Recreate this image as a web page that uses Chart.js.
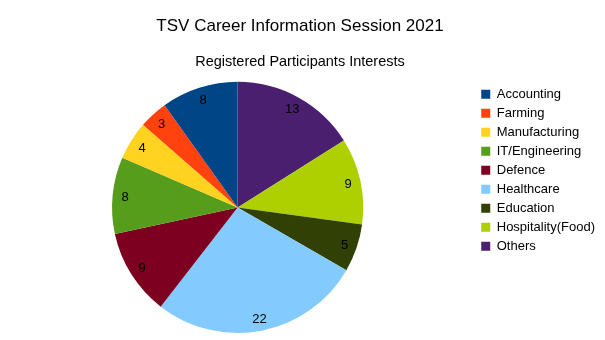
<!DOCTYPE html>
<html>
<head>
<meta charset="utf-8">
<script src="https://cdn.jsdelivr.net/npm/chart.js@4"></script>
<style>
  html, body { margin: 0; padding: 0; background: #fff; }
  #wrap { width: 605px; height: 340px; }
</style>
</head>
<body>
<div id="wrap"><canvas id="interestChart"></canvas></div>
<script>
// data (legend order)
const categories = ['Accounting', 'Farming', 'Manufacturing', 'IT/Engineering', 'Defence',
    'Healthcare', 'Education', 'Hospitality(Food)', 'Others'];
const participants = [8, 3, 4, 8, 9, 22, 5, 9, 13];
const sliceColors = ['#004586', '#ff420e', '#ffd320', '#579d1c', '#7e0021',
    '#83caff', '#314004', '#aecf00', '#4b1f6f'];

Chart.defaults.font.family = '"Liberation Sans", Arial, sans-serif';
Chart.defaults.color = '#000';

// slices go clockwise from the top starting with the last category,
// so feed the chart reversed and flip the legend back
const labelsRev = categories.slice().reverse();
const valuesRev = participants.slice().reverse();
const colorsRev = sliceColors.slice().reverse();

// draw the numbers inside the slices
const sliceValues = {
    id: 'sliceValues',
    afterDatasetsDraw(chart) {
        const ctx = chart.ctx;
        const meta = chart.getDatasetMeta(0);
        const data = chart.data.datasets[0].data;
        ctx.save();
        ctx.font = '13px "Liberation Sans", Arial, sans-serif';
        ctx.fillStyle = '#000';
        ctx.textAlign = 'center';
        ctx.textBaseline = 'middle';
        meta.data.forEach(function(arc, i) {
            const p = arc.getProps(['x', 'y', 'startAngle', 'endAngle', 'outerRadius'], true);
            const mid = (p.startAngle + p.endAngle) / 2;
            const r = p.outerRadius * 0.9;
            ctx.fillText(String(data[i]), p.x + Math.cos(mid) * r, p.y + Math.sin(mid) * r + 1);
        });
        ctx.restore();
    }
};

const ctx = document.getElementById('interestChart').getContext('2d');
new Chart(ctx, {
    type: 'pie',
    data: {
        labels: labelsRev,
        datasets: [{
            data: valuesRev,
            backgroundColor: colorsRev,
            borderWidth: 0
        }]
    },
    options: {
        responsive: true,
        maintainAspectRatio: false,
        animation: false,
        layout: {
            padding: { top: 0, bottom: 7, left: -5, right: 0 }
        },
        plugins: {
            title: {
                display: true,
                text: 'TSV Career Information Session 2021',
                font: { size: 17, weight: 'normal' },
                padding: { top: 16, bottom: 17 }
            },
            subtitle: {
                display: true,
                text: 'Registered Participants Interests',
                font: { size: 14.5 },
                color: '#000',
                padding: { top: 0, bottom: 11 }
            },
            legend: {
                position: 'right',
                align: 'start',
                fullSize: false,
                reverse: true,
                labels: {
                    boxWidth: 9,
                    boxHeight: 9,
                    padding: 6,
                    font: { size: 13 },
                    color: '#000'
                }
            },
            tooltip: { enabled: false }
        }
    },
    plugins: [sliceValues]
});
</script>
</body>
</html>
